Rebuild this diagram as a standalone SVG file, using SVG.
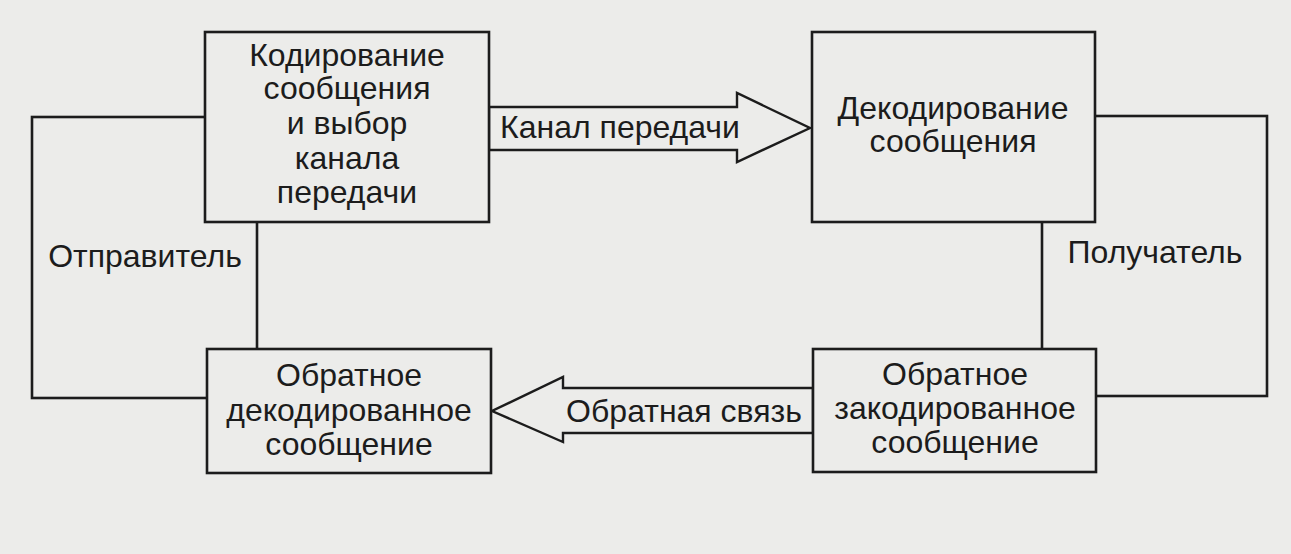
<svg xmlns="http://www.w3.org/2000/svg" width="1291" height="554" viewBox="0 0 1291 554">
<style>
.bg{fill:#ececea}
.box{fill:#ececea;stroke:#1c1c1c;stroke-width:2.6}
.arr{fill:#ececea;stroke:#1c1c1c;stroke-width:2.4;stroke-linejoin:miter}
text{font-family:"Liberation Sans",Arial,sans-serif;font-size:32px;fill:#1c1c1c;text-anchor:middle}
</style>
<rect class="bg" x="0" y="0" width="1291" height="554"/>
<g id="sender">
<rect class="box" x="32" y="117" width="225" height="281"/>
<text x="145" y="267">Отправитель</text>
</g>
<g id="receiver">
<rect class="box" x="1042" y="116" width="225" height="280"/>
<text x="1155" y="263">Получатель</text>
</g>
<g id="connectors">
<polygon class="arr" points="489,107 737,107 737,93 810,128 737,162 737,150 489,150"/>
<text x="620" y="138">Канал передачи</text>
<polygon class="arr" points="813,388 563,388 563,377 492,411 563,442 563,433 813,433"/>
<text x="684" y="422">Обратная связь</text>
</g>
<g id="encode">
<rect class="box" x="205" y="32" width="284" height="190"/>
<text x="347" y="66">Кодирование</text>
<text x="347" y="99">сообщения</text>
<text x="347" y="134">и выбор</text>
<text x="347" y="169">канала</text>
<text x="347" y="203">передачи</text>
</g>
<g id="decode">
<rect class="box" x="812" y="32" width="283" height="190"/>
<text x="953" y="119">Декодирование</text>
<text x="953" y="152">сообщения</text>
</g>
<g id="feedback-decoded">
<rect class="box" x="207" y="349" width="284" height="124"/>
<text x="349" y="386">Обратное</text>
<text x="349" y="421">декодированное</text>
<text x="349" y="455">сообщение</text>
</g>
<g id="feedback-encoded">
<rect class="box" x="813" y="349" width="283" height="123"/>
<text x="955" y="385">Обратное</text>
<text x="955" y="419">закодированное</text>
<text x="955" y="453">сообщение</text>
</g>
</svg>
